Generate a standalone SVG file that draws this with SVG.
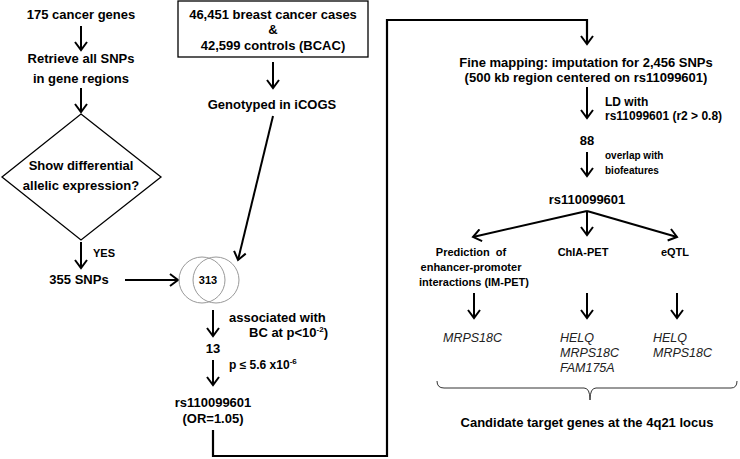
<svg xmlns="http://www.w3.org/2000/svg" width="740" height="459" viewBox="0 0 740 459">
<defs>
<marker id="ah" viewBox="-10 -7 12 14" markerWidth="12" markerHeight="14" refX="0" refY="0" orient="auto" markerUnits="userSpaceOnUse">
<path d="M-8,-6 L0,0 L-8,6" fill="none" stroke="#000" stroke-width="2"/>
</marker>
<style>
text{font-family:"Liberation Sans",Arial,sans-serif;fill:#000}
.b{font-weight:bold;font-size:13px}
.m{font-weight:bold;font-size:12px}
.s{font-weight:bold;font-size:11px}
.xs{font-weight:bold;font-size:10px}
.i{font-style:italic;font-size:12.5px;fill:#222}
.c{text-anchor:middle}
.sup{font-size:8px}
.arr{fill:none;stroke:#000;stroke-width:2;marker-end:url(#ah)}
.ln{fill:none;stroke:#000;stroke-width:2.2}
</style>
</defs>
<rect width="740" height="459" fill="#fff"/>
<g id="connectors">
<line class="arr" x1="81" y1="26" x2="81" y2="50"/>
<line class="arr" x1="81" y1="88" x2="81" y2="112"/>
<line class="arr" x1="81" y1="242" x2="81" y2="268"/>
<line class="arr" x1="125" y1="280" x2="178" y2="280"/>
<line class="arr" x1="273" y1="62" x2="273" y2="88"/>
<line class="arr" x1="273" y1="116" x2="238" y2="260"/>
<line class="arr" x1="213" y1="310" x2="213" y2="336"/>
<line class="arr" x1="213" y1="360" x2="213" y2="385"/>
<polyline class="ln" points="213,430 213,456 387,456 387,20 587,20 587,42"/>
<line class="arr" x1="587" y1="30" x2="587" y2="44"/>
<line class="arr" x1="587" y1="87" x2="587" y2="118"/>
<line class="arr" x1="587" y1="152" x2="587" y2="176"/>
<line class="arr" x1="587" y1="211" x2="473" y2="237"/>
<line class="arr" x1="587" y1="211" x2="587" y2="235"/>
<line class="arr" x1="587" y1="211" x2="677" y2="237"/>
<line class="arr" x1="474" y1="293" x2="474" y2="318"/>
<line class="arr" x1="587" y1="293" x2="587" y2="318"/>
<line class="arr" x1="677" y1="293" x2="677" y2="318"/>
<path d="M437,381 Q437,388 444,388 H584 Q590,388 590,400 Q590,388 596,388 H731 Q737,388 737,381" fill="none" stroke="#333" stroke-width="1"/>
</g>
<g id="n-genes"><text class="b c" x="81" y="19">175 cancer genes</text></g>
<g id="n-retrieve"><text class="b c" x="81" y="63">Retrieve all SNPs</text><text class="b c" x="81" y="83">in gene regions</text></g>
<g id="n-diamond">
<polygon points="81,114 161,177 81,240 2,177" fill="#fff" stroke="#000" stroke-width="1.3"/>
<text class="b c" x="81" y="170">Show differential</text>
<text class="b c" x="81" y="190">allelic expression?</text>
</g>
<g id="n-yes"><text class="s" x="93" y="257">YES</text></g>
<g id="n-355"><text class="b c" x="79" y="284">355 SNPs</text></g>
<g id="n-cases">
<rect x="178" y="1" width="190" height="56" fill="#fff" stroke="#000" stroke-width="1.3"/>
<text class="b c" x="273" y="19">46,451 breast cancer cases</text>
<text class="b c" x="273" y="34">&amp;</text>
<text class="b c" x="273" y="50">42,599 controls (BCAC)</text>
</g>
<g id="n-icogs"><text class="b c" x="272" y="109">Genotyped in iCOGS</text></g>
<g id="n-venn">
<circle cx="202" cy="280" r="23" fill="none" stroke="#999" stroke-width="1"/>
<circle cx="216" cy="280" r="23" fill="none" stroke="#999" stroke-width="1"/>
<text class="s c" x="208" y="284">313</text>
</g>
<g id="n-assoc">
<text class="b" x="229" y="322">associated with</text>
<text class="b" x="249" y="337">BC at p&lt;10<tspan class="sup" dy="-5">-2</tspan><tspan dy="5">)</tspan></text>
</g>
<g id="n-13"><text class="b c" x="213" y="353">13</text></g>
<g id="n-p"><text class="m" x="229" y="369">p ≤ 5.6 x10<tspan class="sup" dy="-5">-6</tspan></text></g>
<g id="n-rs-left">
<text class="b c" x="213" y="407">rs110099601</text>
<text class="b c" x="213" y="423">(OR=1.05)</text>
</g>
<g id="n-fine">
<text class="b c" x="586" y="67">Fine mapping: imputation for 2,456 SNPs</text>
<text class="b c" x="586" y="82">(500 kb region centered on rs11099601)</text>
</g>
<g id="n-ld">
<text class="m" x="605" y="106">LD with</text>
<text class="m" x="605" y="120">rs11099601 (r2 &gt; 0.8)</text>
</g>
<g id="n-88"><text class="b c" x="587" y="145">88</text></g>
<g id="n-overlap">
<text class="xs" x="605" y="159">overlap with</text>
<text class="xs" x="605" y="174">biofeatures</text>
</g>
<g id="n-rs-right"><text class="b c" x="587" y="204">rs110099601</text></g>
<g id="n-impet">
<text class="s c" x="471" y="256" xml:space="preserve">Prediction  of</text>
<text class="s c" x="471" y="271">enhancer-promoter</text>
<text class="s c" x="474" y="286">interactions (IM-PET)</text>
</g>
<g id="n-chia"><text class="s c" x="583" y="256">ChIA-PET</text></g>
<g id="n-eqtl"><text class="s c" x="675" y="256">eQTL</text></g>
<g id="n-g1"><text class="i" x="443" y="342">MRPS18C</text></g>
<g id="n-g2">
<text class="i" x="560" y="342">HELQ</text>
<text class="i" x="560" y="357">MRPS18C</text>
<text class="i" x="560" y="372">FAM175A</text>
</g>
<g id="n-g3">
<text class="i" x="653" y="342">HELQ</text>
<text class="i" x="653" y="357">MRPS18C</text>
</g>
<g id="n-candidate"><text class="b c" x="587" y="427">Candidate target genes at the 4q21 locus</text></g>
</svg>
